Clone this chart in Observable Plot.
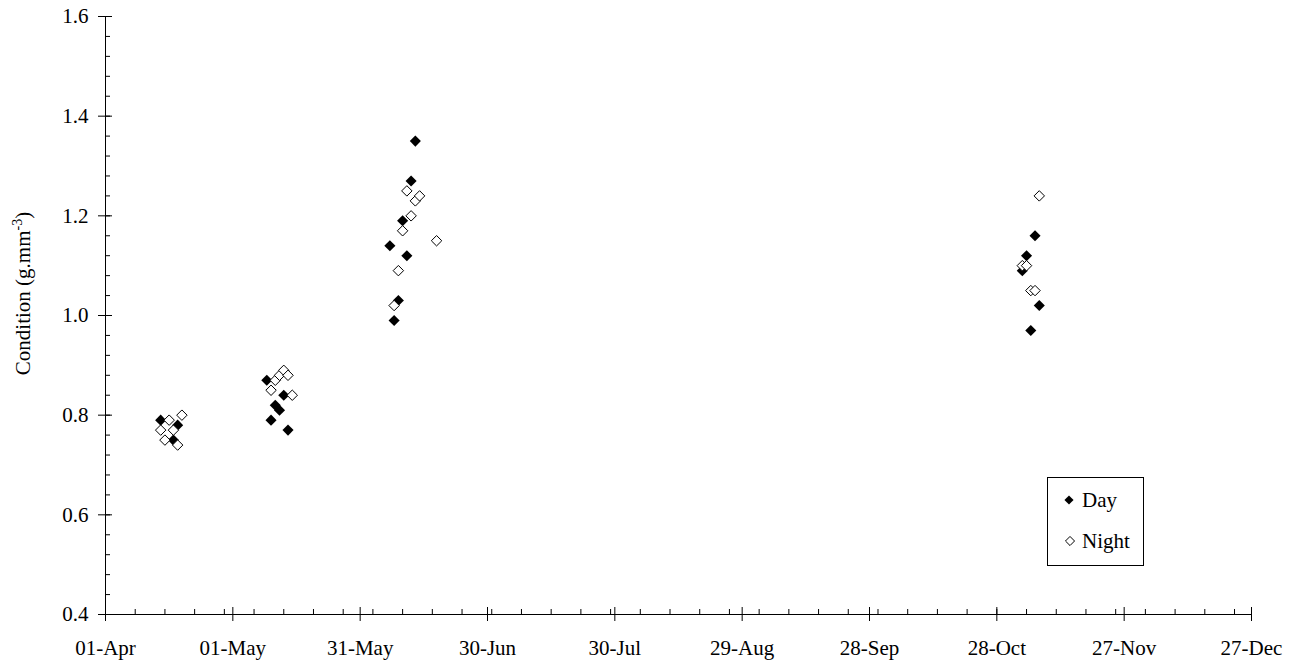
<!DOCTYPE html>
<html>
<head>
<meta charset="utf-8">
<script src="https://cdn.jsdelivr.net/npm/d3@7"></script>
<script src="https://cdn.jsdelivr.net/npm/@observablehq/plot@0.6"></script>
<style>
  html, body { margin: 0; padding: 0; background: #fff; }
  #chart { width: 1298px; height: 661px; }
  #chart svg, #chart svg text { font-family: 'Liberation Serif', 'Times New Roman', Times, serif !important; }
</style>
</head>
<body>
<div id="chart"></div>
<script>
// ---- data ----
const dayDates = ["2001-04-14","2001-04-18","2001-04-17",
  "2001-05-09","2001-05-10","2001-05-11","2001-05-12","2001-05-13","2001-05-14",
  "2001-06-07","2001-06-08","2001-06-09","2001-06-10","2001-06-11","2001-06-12","2001-06-13",
  "2001-11-03","2001-11-04","2001-11-05","2001-11-06","2001-11-07"];
const dayValues = [0.79,0.78,0.75,
  0.87,0.79,0.82,0.81,0.84,0.77,
  1.14,0.99,1.03,1.19,1.12,1.27,1.35,
  1.09,1.12,0.97,1.16,1.02];

const nightDates = ["2001-04-14","2001-04-15","2001-04-16","2001-04-17","2001-04-18","2001-04-19",
  "2001-05-10","2001-05-11","2001-05-12","2001-05-13","2001-05-14","2001-05-15",
  "2001-06-08","2001-06-09","2001-06-10","2001-06-11","2001-06-12","2001-06-13","2001-06-14","2001-06-18",
  "2001-11-03","2001-11-04","2001-11-05","2001-11-06","2001-11-07"];
const nightValues = [0.77,0.75,0.79,0.77,0.74,0.80,
  0.85,0.87,0.88,0.89,0.88,0.84,
  1.02,1.09,1.17,1.25,1.20,1.23,1.24,1.15,
  1.10,1.10,1.05,1.05,1.24];

const xTickDates = ["2001-04-01","2001-05-01","2001-05-31","2001-06-30","2001-07-30",
  "2001-08-29","2001-09-28","2001-10-28","2001-11-27","2001-12-27"];
const yTickValues = [0.4,0.6,0.8,1.0,1.2,1.4,1.6];
const seriesNames = ["Day","Night"];
const yLabel = "Condition (g.mm";
const yLabelSup = "-3";

// ---- build tables ----
const parse = d3.utcParse("%Y-%m-%d");
const day = dayDates.map((d, i) => ({date: parse(d), value: dayValues[i]}));
const night = nightDates.map((d, i) => ({date: parse(d), value: nightValues[i]}));
const xMajor = xTickDates.map(parse);
const xMinor = d3.utcDay.range(xMajor[0], d3.utcDay.offset(xMajor[xMajor.length-1], 1)).filter((d, i) => i % 7 === 0);
const yMinor = d3.range(0, 31).map(i => +(0.4 + i * 0.04).toFixed(2));
const fmtDate = d3.utcFormat("%d-%b");
const fmtY = d3.format(".1f");
const blank = () => "";
const font = "'Liberation Serif', 'Times New Roman', Times, serif";

const chart = Plot.plot({
  width: 1298,
  height: 661,
  marginLeft: 105,
  marginRight: 47,
  marginTop: 16,
  marginBottom: 47,
  style: {fontFamily: font, fontSize: "21px", background: "white", color: "black", overflow: "visible"},
  x: {type: "utc", domain: [xMajor[0], xMajor[xMajor.length-1]], label: null},
  y: {domain: [0.4, 1.6], label: null},
  marks: [
    Plot.axisY(yMinor, {tickSize: -5, tickFormat: blank, label: null}),
    Plot.axisY(yTickValues, {tickSize: -7, tickFormat: blank, label: null}),
    Plot.axisY(yTickValues, {tickSize: 7, tickPadding: 10, tickFormat: fmtY,
      label: yLabel + yLabelSup + ")", labelAnchor: "center", labelArrow: "none", labelOffset: 90}),
    Plot.axisX(xMinor, {tickSize: -5, tickFormat: blank, label: null}),
    Plot.axisX(xMajor, {tickSize: -7, tickFormat: blank, label: null}),
    Plot.axisX(xMajor, {tickSize: 7, tickPadding: 19, tickFormat: fmtDate, label: null}),
    Plot.ruleY([0.4]),
    Plot.ruleX([xMajor[0]]),
    Plot.dot(day, {x: d => d.date, y: d => d.value, symbol: "diamond2", r: 5, fill: "black", stroke: "none"}),
    Plot.dot(night, {x: d => d.date, y: d => d.value, symbol: "diamond2", r: 4.7, fill: "white", stroke: "black", strokeWidth: 1})
  ]
});

document.getElementById("chart").appendChild(chart);

const svg = d3.select(chart.tagName.toLowerCase() === "svg" ? chart : chart.querySelector("svg"));
svg.attr("font-family", font).style("font-family", font);

// superscript in the y label
const lab = svg.select('g[aria-label="y-axis label"] text');
if (!lab.empty()) {
  lab.text(null);
  lab.append("tspan").attr("dx", "22").text(yLabel);
  lab.append("tspan").attr("dy", "-8").attr("font-size", "14px").text(yLabelSup);
  lab.append("tspan").attr("dy", "8").text(")");
}

// legend box (inside plot area, lower right)
const leg = svg.append("g").attr("font-family", font).attr("font-size", "21px").attr("text-anchor", "start");
leg.append("rect").attr("x", 1047.5).attr("y", 477.5).attr("width", 96).attr("height", 88)
  .attr("fill", "white").attr("stroke", "black").attr("stroke-width", 1);
const sym = d3.symbol(d3.symbolDiamond2, Math.PI * 4.1 * 4.1);
leg.append("path").attr("d", sym()).attr("transform", "translate(1069,500)").attr("fill", "black");
leg.append("path").attr("d", sym()).attr("transform", "translate(1070,541)").attr("fill", "white").attr("stroke", "black");
leg.append("text").attr("x", 1082).attr("y", 507).attr("text-anchor", "start").text(seriesNames[0]);
leg.append("text").attr("x", 1082).attr("y", 548).attr("text-anchor", "start").text(seriesNames[1]);
</script>
</body>
</html>
